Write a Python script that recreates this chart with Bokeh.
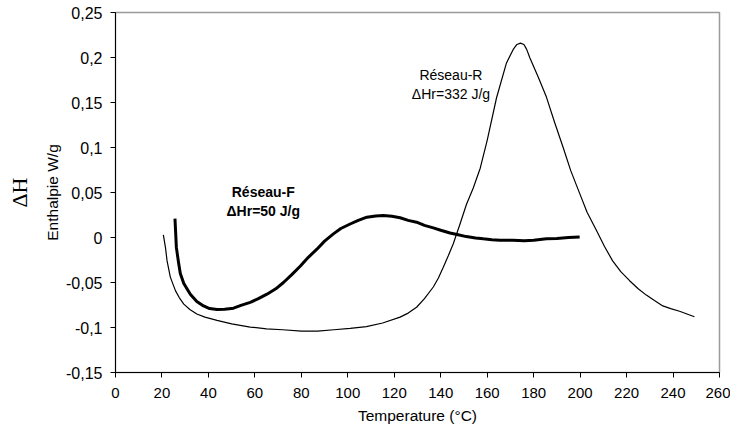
from bokeh.plotting import figure
from bokeh.models import Range1d, FixedTicker, LinearAxis, Label
from bokeh.embed import file_html
from bokeh.resources import INLINE

# Réseau-R (thin curve)
temp_r = [20.6, 21.5, 22.2, 23.6, 25.8, 27.5, 29.4, 32, 35, 38.5, 43.7, 50, 58, 65, 72,
          80, 87, 94, 101, 108, 115, 122.5, 126, 129.6, 133, 136.8, 139, 141.1, 143.3,
          145.4, 148.3, 151.1, 154, 157, 160, 164, 168.3, 171.2, 172.8, 174.3, 175.8,
          177, 178.3, 182, 185.5, 189, 192.7, 196, 199.8, 203, 207, 210.5, 214, 217.5,
          221.3, 225, 228.5, 232, 235.6, 239, 242.8, 246, 249.2]
enth_r = [0.003, -0.011, -0.026, -0.044, -0.059, -0.067, -0.074, -0.080, -0.085,
          -0.0885, -0.092, -0.096, -0.0995, -0.1015, -0.1025, -0.104, -0.104, -0.1025,
          -0.101, -0.099, -0.095, -0.0885, -0.084, -0.0775, -0.068, -0.055, -0.045,
          -0.033, -0.020, -0.007, 0.015, 0.037, 0.055, 0.077, 0.108, 0.155, 0.194,
          0.209, 0.2145, 0.216, 0.2145, 0.209, 0.200, 0.178, 0.156, 0.128, 0.100,
          0.074, 0.049, 0.028, 0.008, -0.010, -0.026, -0.038, -0.048, -0.057, -0.064,
          -0.070, -0.076, -0.079, -0.082, -0.085, -0.088]

# Réseau-F (thick curve)
temp_f = [25.6, 26.2, 27.2, 27.9, 29.4, 32.2, 35, 37.9, 40.5, 43.7, 47, 50.8, 54, 58,
          61.5, 65.2, 69, 72.3, 76, 79.5, 83, 86.7, 90, 93.8, 97, 101, 104.5, 108.2,
          112, 115.3, 119, 122.5, 126, 129.6, 133, 136.8, 140, 144, 147.5, 151, 155,
          158.3, 162, 165.5, 171, 176, 180, 185.5, 190, 195, 199.8]
enth_f = [0.021, -0.011, -0.029, -0.040, -0.051, -0.063, -0.071, -0.076, -0.079,
          -0.080, -0.0798, -0.0785, -0.0755, -0.072, -0.068, -0.063, -0.057, -0.050,
          -0.041, -0.032, -0.022, -0.013, -0.004, 0.004, 0.010, 0.015, 0.019, 0.0226,
          0.024, 0.0244, 0.0235, 0.0219, 0.019, 0.017, 0.0135, 0.0107, 0.008, 0.005,
          0.003, 0.001, -0.0005, -0.0015, -0.0025, -0.003, -0.003, -0.0035, -0.003,
          -0.0015, -0.001, 0.000, 0.0005]

x_ticks = [0, 20, 40, 60, 80, 100, 120, 140, 160, 180, 200, 220, 240, 260]
y_ticks = [-0.15, -0.1, -0.05, 0, 0.05, 0.1, 0.15, 0.2, 0.25]
y_tick_labels = ["-0,15", "-0,1", "-0,05", "0", "0,05", "0,1", "0,15", "0,2", "0,25"]

FONT = "Liberation Sans"

p = figure(width=730, height=428, output_backend="svg", toolbar_location=None,
           x_range=Range1d(0, 260), y_range=Range1d(-0.15, 0.25),
           min_border_left=115, min_border_top=12, min_border_right=11, min_border_bottom=56)
p.background_fill_color = "white"
p.border_fill_color = "white"
p.outline_line_color = "#9a9a9a"
p.outline_line_width = 1.5
p.xgrid.visible = False
p.ygrid.visible = False

p.line(temp_r, enth_r, line_color="black", line_width=1.2)
p.line(temp_f, enth_f, line_color="black", line_width=3)

for ax in (p.xaxis[0], p.yaxis[0]):
    ax.axis_line_color = "black"
    ax.axis_line_width = 1
    ax.major_tick_line_color = "black"
    ax.major_tick_out = 5
    ax.major_tick_in = 0
    ax.minor_tick_line_color = None
    ax.major_label_text_font = FONT
    ax.major_label_text_color = "black"
    ax.axis_label_text_font = FONT
    ax.axis_label_text_font_size = "15.5px"
    ax.axis_label_text_font_style = "normal"
    ax.axis_label_text_color = "black"

p.xaxis.ticker = FixedTicker(ticks=x_ticks)
p.xaxis.axis_label = "Temperature (°C)"
p.xaxis.major_label_text_font_size = "15px"
p.xaxis.major_label_standoff = 10
p.xaxis.axis_label_standoff = 6

p.yaxis.ticker = FixedTicker(ticks=y_ticks)
p.yaxis.major_label_overrides = {t: l for t, l in zip(y_ticks, y_tick_labels)}
p.yaxis.major_label_text_font_size = "16px"
p.yaxis.axis_label = "Enthalpie W/g"
p.yaxis.major_label_standoff = 8
p.yaxis.axis_label_standoff = 2

dh_axis = LinearAxis(axis_label="ΔH", axis_line_color=None, major_tick_line_color=None,
                     minor_tick_line_color=None, major_label_text_font_size="0px",
                     major_label_standoff=0, major_tick_out=0, major_tick_in=0,
                     axis_label_text_font="Liberation Serif", axis_label_text_font_size="22px",
                     axis_label_text_font_style="normal", axis_label_text_color="black",
                     axis_label_standoff=10, ticker=FixedTicker(ticks=[]))
p.add_layout(dh_axis, "left")

lbl = dict(text_font=FONT, text_font_size="14px", text_color="black",
           text_align="center", text_baseline="middle")
p.add_layout(Label(x=63.6, y=0.051, text="Réseau-F", text_font_style="bold", **lbl))
p.add_layout(Label(x=63.6, y=0.030, text="ΔHr=50 J/g", text_font_style="bold", **lbl))
p.add_layout(Label(x=144.4, y=0.181, text="Réseau-R", **lbl))
p.add_layout(Label(x=144.4, y=0.159, text="ΔHr=332 J/g", **lbl))

open("out.html", "w").write(file_html(p, INLINE))
